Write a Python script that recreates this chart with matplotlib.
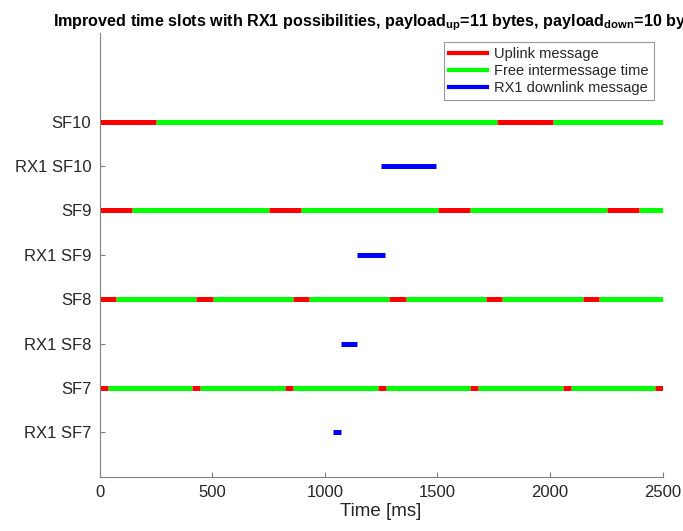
import matplotlib
matplotlib.use("Agg")
import matplotlib.pyplot as plt
from matplotlib.lines import Line2D

plt.rcParams["font.family"] = ["Liberation Sans", "DejaVu Sans"]
plt.rcParams["mathtext.fontset"] = "custom"
plt.rcParams["mathtext.rm"] = "Liberation Sans"
plt.rcParams["mathtext.bf"] = "Liberation Sans:bold"

# Rows from bottom to top
ROW_LABELS = ["RX1 SF7", "SF7", "RX1 SF8", "SF8", "RX1 SF9", "SF9", "RX1 SF10", "SF10"]

T_END = 2500  # ms

# Uplink time on air (ms), SF7..SF10
UPLINK_AIRTIME = [36.1, 72.2, 144.4, 247.8]

# Uplink start times (ms)
SF7_STARTS = [0, 411, 823, 1234, 1646, 2057, 2468]
SF8_STARTS = [0, 429, 858, 1287, 1716, 2145]
SF9_STARTS = [0, 751, 1502, 2253]
SF10_STARTS = [0, 1767]

# RX1 downlink windows (ms), SF7..SF10
RX1_START = [1036, 1072, 1144, 1248]
RX1_END = [1072, 1144, 1268, 1496]

RED = "#ff0000"
GREEN = "#00ff00"
BLUE = "#0000ff"
INK = "#262626"
AXIS = "#808080"
LW = 3.6

fig = plt.figure(figsize=(6.83, 5.31), dpi=100)
ax = fig.add_axes([0.146, 0.102, 0.824, 0.836])

for k, starts in enumerate([SF7_STARTS, SF8_STARTS, SF9_STARTS, SF10_STARTS]):
    y_up = 2 * k + 2
    y_rx = 2 * k + 1
    air = UPLINK_AIRTIME[k]
    ends = [min(s + air, T_END) for s in starts]
    # free time between consecutive uplinks
    gap_from = ends
    gap_to = starts[1:] + [T_END]
    for a, b in zip(gap_from, gap_to):
        if b > a:
            ax.plot([a, b], [y_up, y_up], color=GREEN, lw=LW, solid_capstyle="butt")
    for a, b in zip(starts, ends):
        ax.plot([a, b], [y_up, y_up], color=RED, lw=LW, solid_capstyle="butt")
    ax.plot([RX1_START[k], RX1_END[k]], [y_rx, y_rx], color=BLUE, lw=LW, solid_capstyle="butt")

ax.set_xlim(0, T_END)
ax.set_ylim(0, 10)
ax.set_yticks(range(1, len(ROW_LABELS) + 1))
ax.set_yticklabels(ROW_LABELS)
ax.set_xticks([0, 500, 1000, 1500, 2000, 2500])

for side in ("top", "right"):
    ax.spines[side].set_visible(False)
for side in ("left", "bottom"):
    ax.spines[side].set_color(AXIS)
    ax.spines[side].set_linewidth(0.8)
ax.tick_params(direction="in", length=3.6, width=0.8, color=AXIS, labelcolor=INK, labelsize=12)
ax.tick_params(axis="y", pad=6)
ax.tick_params(axis="x", pad=6)

ax.set_xlabel("Time [ms]", fontsize=13.5, color=INK, labelpad=2)
ax.set_title(r"Improved time slots with RX1 possibilities, payload$_{\mathbf{up}}$=11 bytes, "
             r"payload$_{\mathbf{down}}$=10 bytes",
             fontsize=11.6, fontweight="bold", color="black", pad=5)

handles = [Line2D([], [], color=RED, lw=3),
           Line2D([], [], color=GREEN, lw=3),
           Line2D([], [], color=BLUE, lw=3)]
leg = ax.legend(handles, ["Uplink message", "Free intermessage time", "RX1 downlink message"],
                loc="upper right", fontsize=10.5, frameon=True, fancybox=False,
                borderaxespad=0.6, handlelength=2.6, handletextpad=0.5,
                labelspacing=0.2, borderpad=0.35)
leg.get_frame().set_edgecolor(AXIS)
leg.get_frame().set_linewidth(0.8)
for t in leg.get_texts():
    t.set_color(INK)

fig.savefig("out.png", dpi=100)
